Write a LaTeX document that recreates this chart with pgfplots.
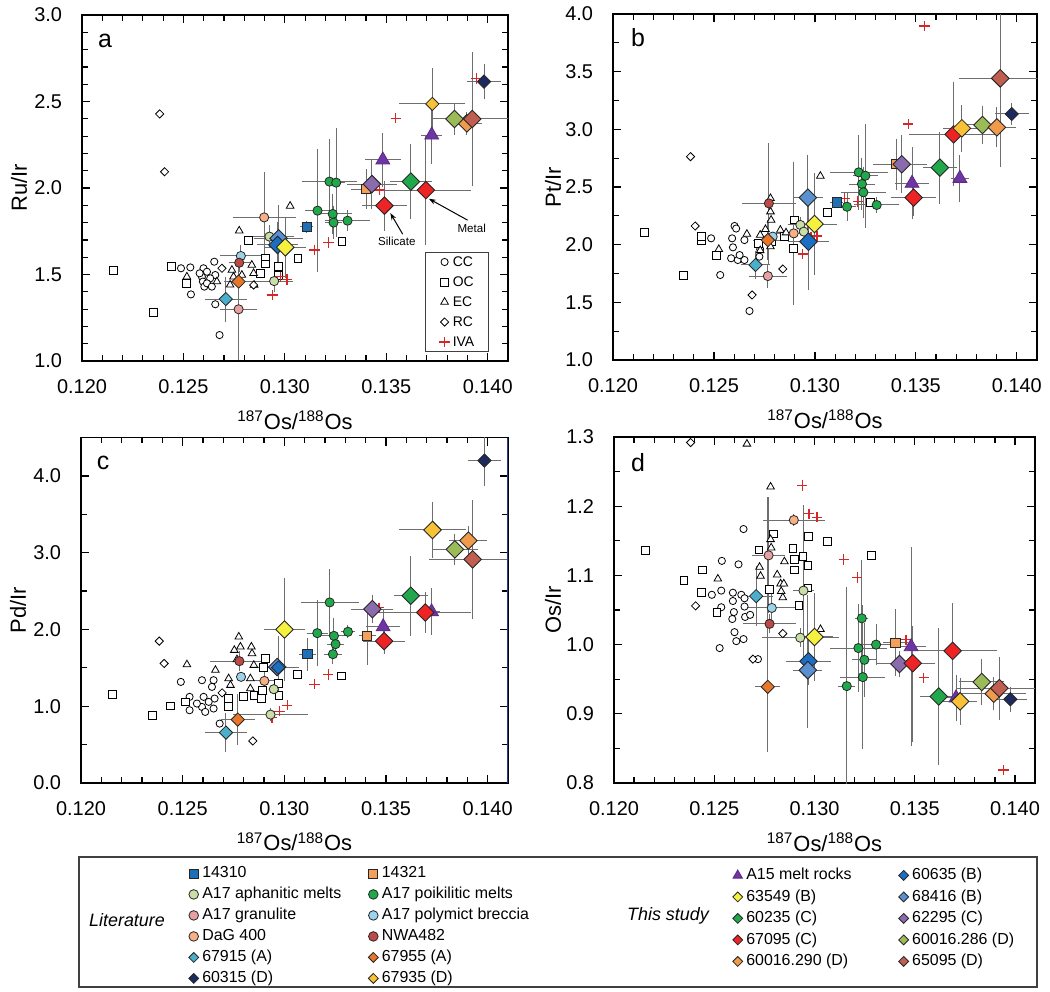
\documentclass[border=0pt]{standalone}
\usepackage{fontspec}
\setmainfont{Liberation Sans}
\usepackage{pgfplots}
\pgfplotsset{compat=1.18}
\usetikzlibrary{arrows.meta}

\definecolor{c14310}{HTML}{1F6FB6}
\definecolor{c14321}{HTML}{F5A05A}
\definecolor{caph}{HTML}{C9DFA7}
\definecolor{cpoik}{HTML}{20A94B}
\definecolor{cgran}{HTML}{E8A1A1}
\definecolor{cpoly}{HTML}{9DD3EA}
\definecolor{cdag}{HTML}{F7AF85}
\definecolor{cnwa}{HTML}{BE4A47}
\definecolor{c67915}{HTML}{4AAFCB}
\definecolor{c67955}{HTML}{E8762B}
\definecolor{c60315}{HTML}{1C2A5E}
\definecolor{c67935}{HTML}{F8C136}
\definecolor{cAxv}{HTML}{6F35A5}
\definecolor{c60635}{HTML}{1B6FC2}
\definecolor{c63549}{HTML}{F6F13F}
\definecolor{c60235}{HTML}{22A84C}
\definecolor{c62295}{HTML}{8A6CAE}
\definecolor{c67095}{HTML}{EE2424}
\definecolor{c60286}{HTML}{9BBB59}
\definecolor{c68416}{HTML}{5A8FD0}
\definecolor{c60290}{HTML}{F09A4C}
\definecolor{c65095}{HTML}{C05E52}
\definecolor{civa}{HTML}{D62728}
\definecolor{cerr}{HTML}{6E6E6E}
\definecolor{cnavy}{HTML}{2D3A8C}

\tikzset{letter/.style={font=\fontsize{12.5}{15}\selectfont}}

\pgfplotsset{
  mkleg/.style={legend image code/.code={\draw[##1] plot[only marks] coordinates {(0pt,0pt)};}},
  mCC/.style={only marks, mark=*, mark size=1.8bp, mark options={fill=white, draw=black, line width=0.4bp}, mkleg},
  mOC/.style={only marks, mark=square*, mark size=1.95bp, mark options={fill=white, draw=black, line width=0.4bp}, mkleg},
  mEC/.style={only marks, mark=triangle*, mark size=2.2bp, mark options={fill=white, draw=black, line width=0.4bp}, mkleg},
  mRC/.style={only marks, mark=square*, mark size=1.45bp, mark options={rotate=45, fill=white, draw=black, line width=0.4bp}, mkleg},
  mIVA/.style={only marks, mark=+, mark size=2.6bp, mark options={draw=civa, line width=0.65bp}, mkleg},
  mcirc/.style={only marks, mark=*, mark size=2.3bp, mark options={fill=#1, draw=black!85, line width=0.4bp}, mkleg},
  msq/.style={only marks, mark=square*, mark size=2.3bp, mark options={fill=#1, draw=black!85, line width=0.4bp}, mkleg},
  mdia/.style={only marks, mark=square*, mark size=2.35bp, mark options={rotate=45, fill=#1, draw=black!85, line width=0.4bp}, mkleg},
  mbdia/.style={only marks, mark=square*, mark size=3.1bp, mark options={rotate=45, fill=#1, draw=black!85, line width=0.45bp}, mkleg},
  mbtri/.style={only marks, mark=triangle*, mark size=4bp, mark options={fill=cAxv, draw=cAxv!80!black, line width=0.4bp}, mkleg},
  errs/.style={forget plot, only marks, mark=*, mark size=0.2bp, color=cerr,
    error bars/.cd, x dir=both, y dir=both, x explicit, y explicit,
    error bar style={cerr, line width=0.5bp},
    error mark options={cerr, line width=0.5bp, mark size=1.3bp}},
  panel/.style={
    scale only axis, xmin=0.120, xmax=0.141,
    xtick={0.120,0.125,0.130,0.135,0.140}, minor x tick num=4,
    scaled x ticks=false, scaled y ticks=false,
    /pgf/number format/assume math mode=true,
    xticklabel={\pgfmathprintnumber[fixed,fixed zerofill,precision=3]{\tick}},
    yticklabel={\pgfmathprintnumber[fixed,fixed zerofill,precision=1]{\tick}},
    tick label style={font=\fontsize{10}{12}\selectfont},
    xticklabel style={yshift=-6bp},
    yticklabel style={xshift=-6.5bp},
    tick align=inside, tick pos=both,
    major tick length=4bp, minor tick length=2.8bp,
    every tick/.style={black, line width=0.6bp},
    axis line style={line width=0.8bp},
    xlabel={\textsuperscript{187}Os/\textsuperscript{188}Os},
    label style={font=\fontsize{11}{13}\selectfont},
    xlabel style={at={(axis description cs:0.5,-0.17)}, anchor=center},
  },
  botleg/.style={hide axis, scale only axis, width=525bp, height=496bp,
    at={(0bp,-496bp)}, anchor=south west, xmin=0, xmax=1, ymin=0, ymax=1,
    legend columns=2, legend cell align=left},
}

\begin{document}
\begin{tikzpicture}
\useasboundingbox (0bp,0bp) rectangle (525bp,-496bp);

% ---------------- panel a ----------------
\begin{axis}[panel, at={(41bp,-180.5bp)}, anchor=south west, width=213bp, height=173bp,
  ymin=1, ymax=3, ytick={1,1.5,2,2.5,3}, minor y tick num=4,
  ylabel={Ru/Ir}, ylabel style={at={(axis description cs:-0.148,0.5)}, anchor=center},
  legend cell align=left,
  legend style={at={(0.955,0.026)}, anchor=south east, draw=black!75, line width=0.6bp,
    inner xsep=7bp, inner ysep=1.3bp, row sep=3.2bp,
    nodes={inner sep=0pt, text height=5.5bp, text depth=1.3bp, font=\fontsize{7}{8}\selectfont},
    /tikz/every odd column/.append style={column sep=1.5bp}}]
\addplot[errs] table[x=x, y=y, x error plus=xp, x error minus=xm, y error plus=yp, y error minus=ym] {
x y xm xp ym yp
0.13108 1.776 0.0002 0.0002 0.02 0.02
0.12898 1.830 0.00143 0.00143 0.25 0.25
0.12924 1.719 0.0011 0.0011 0.05 0.05
0.12947 1.462 0.0008 0.0008 0.05 0.05
0.12709 1.358 0.0009 0.0009 0.115 0.115
0.12772 1.299 0.0008 0.0008 0.28 0.28
0.12772 1.459 0.0006 0.0006 0.15 0.15
0.12783 1.607 0.0009 0.0009 0.05 0.05
0.12775 1.568 0.0004 0.0004 0.04 0.04
0.13220 2.037 0.00123 0.00123 0.23 0.23
0.13253 2.031 0.0003 0.0003 0.30 0.30
0.13161 1.869 0.0005 0.0005 0.34 0.34
0.13236 1.850 0.0008 0.0008 0.10 0.10
0.13240 1.800 0.0003 0.0003 0.08 0.08
0.13309 1.811 0.0010 0.0010 0.045 0.045
0.12969 1.709 0.0011 0.0011 0.18 0.18
0.12964 1.671 0.0009 0.0009 0.12 0.12
0.13002 1.657 0.0009 0.0009 0.16 0.16
0.13429 2.023 0.0011 0.0011 0.13 0.13
0.13401 1.994 0.0006 0.0006 0.10 0.10
0.13483 2.162 0.00075 0.00075 0.14 0.14
0.13724 2.306 0.0004 0.0004 0.15 0.15
0.13491 1.898 0.0010 0.0010 0.13 0.13
0.13695 1.988 0.0021 0.0021 0.30 0.30
0.13621 2.037 0.0009 0.0009 0.20 0.20
0.13836 2.399 0.0010 0.0010 0.08 0.08
0.13924 2.399 0.0018 0.0018 0.37 0.37
0.13897 2.374 0.0006 0.0006 0.05 0.05
0.13727 2.486 0.0015 0.0015 0.19 0.19
0.13982 2.615 0.0007 0.0007 0.085 0.085
};
\addplot[mCC] coordinates {(0.12488,1.536) (0.12534,1.541) (0.12537,1.385) (0.12599,1.536) (0.12616,1.516) (0.12652,1.574) (0.12657,1.497) (0.12591,1.487) (0.12596,1.459) (0.12603,1.430) (0.12632,1.478) (0.12657,1.328) (0.12678,1.150) (0.12580,1.507) (0.12616,1.449) (0.12640,1.430)};
\addlegendentry{CC}
\addplot[mOC] coordinates {(0.12156,1.526) (0.12350,1.279) (0.12440,1.545) (0.12514,1.449) (0.12821,1.696) (0.12903,1.593) (0.12906,1.561) (0.12969,1.549) (0.12969,1.497) (0.13064,1.593) (0.13281,1.690) (0.12878,1.507)};
\addlegendentry{OC}
\addplot[mEC] coordinates {(0.12517,1.487) (0.12665,1.459) (0.12775,1.753) (0.12739,1.526) (0.12747,1.487) (0.12788,1.497) (0.12837,1.555) (0.12846,1.507) (0.12849,1.439) (0.13026,1.896) (0.12730,1.440)};
\addlegendentry{EC}
\addplot[mRC] coordinates {(0.12383,2.428) (0.12407,2.094) (0.12690,1.536) (0.12846,1.439)};
\addlegendentry{RC}
\addplot[mIVA] coordinates {(0.13943,2.634) (0.13547,2.403) (0.13466,1.988) (0.13215,1.686) (0.13146,1.642) (0.12977,1.487) (0.13010,1.472) (0.12939,1.381)};
\addlegendentry{IVA}
\addplot[msq=c14310, forget plot] coordinates {(0.13108,1.776)};
\addplot[msq=c14321, forget plot] coordinates {(0.13401,1.994)};
\addplot[mcirc=caph, forget plot] coordinates {(0.12924,1.719) (0.12947,1.462)};
\addplot[mcirc=cpoik, forget plot] coordinates {(0.13220,2.037) (0.13253,2.031) (0.13161,1.869) (0.13236,1.850) (0.13240,1.800) (0.13309,1.811)};
\addplot[mcirc=cgran, forget plot] coordinates {(0.12772,1.299)};
\addplot[mcirc=cpoly, forget plot] coordinates {(0.12783,1.607)};
\addplot[mcirc=cdag, forget plot] coordinates {(0.12898,1.830)};
\addplot[mcirc=cnwa, forget plot] coordinates {(0.12775,1.568)};
\addplot[mdia=c67915, forget plot] coordinates {(0.12709,1.358)};
\addplot[mdia=c67955, forget plot] coordinates {(0.12772,1.459)};
\addplot[mdia=c60315, forget plot] coordinates {(0.13982,2.615)};
\addplot[mdia=c67935, forget plot] coordinates {(0.13727,2.486)};
\addplot[mbtri, forget plot] coordinates {(0.13483,2.162) (0.13724,2.306)};
\addplot[mbdia=c68416, forget plot] coordinates {(0.12969,1.709)};
\addplot[mbdia=c60635, forget plot] coordinates {(0.12964,1.671)};
\addplot[mbdia=c63549, forget plot] coordinates {(0.13002,1.657)};
\addplot[mbdia=c60235, forget plot] coordinates {(0.13621,2.037)};
\addplot[mbdia=c62295, forget plot] coordinates {(0.13429,2.023)};
\addplot[mbdia=c67095, forget plot] coordinates {(0.13491,1.898) (0.13695,1.988)};
\addplot[mbdia=c60290, forget plot] coordinates {(0.13897,2.374)};
\addplot[mbdia=c60286, forget plot] coordinates {(0.13836,2.399)};
\addplot[mbdia=c65095, forget plot] coordinates {(0.13924,2.399)};
\node[letter] at (rel axis cs:0.054,0.925) {a};
\draw[-{Stealth[length=3.5bp,width=2.5bp]}, line width=0.5bp] (axis cs:0.13581,1.733) -- (axis cs:0.13520,1.855);
\draw[-{Stealth[length=3.5bp,width=2.5bp]}, line width=0.5bp] (axis cs:0.13901,1.814) -- (axis cs:0.13710,1.938);
\node[font=\fontsize{5.8}{7}\selectfont] at (axis cs:0.13552,1.692) {Silicate};
\node[font=\fontsize{5.8}{7}\selectfont] at (axis cs:0.13921,1.767) {Metal};
\end{axis}

% ---------------- panel b ----------------
\begin{axis}[panel, at={(306.5bp,-180bp)}, anchor=south west, width=212bp, height=173bp,
  ymin=1, ymax=4, ytick={1,1.5,2,2.5,3,3.5,4}, minor y tick num=1,
  ylabel={Pt/Ir}, ylabel style={at={(axis description cs:-0.1415,0.5)}, anchor=center}]
\addplot[errs] table[x=x, y=y, x error plus=xp, x error minus=xm, y error plus=yp, y error minus=ym] {
x y xm xp ym yp
0.12772 2.358 0.0012 0.0012 0.50 0.50
0.12965 2.408 0.0006 0.0006 0.35 0.35
0.12968 2.026 0.0009 0.0009 0.40 0.40
0.12895 2.098 0.0008 0.0008 0.60 0.60
0.12998 2.179 0.0010 0.0010 0.42 0.42
0.12706 1.824 0.0006 0.0006 0.10 0.10
0.12767 2.040 0.0006 0.0006 0.15 0.15
0.12767 1.728 0.0008 0.0008 0.08 0.08
0.12928 2.171 0.0005 0.0005 0.05 0.05
0.13217 2.627 0.0013 0.0013 0.30 0.30
0.13250 2.598 0.0005 0.0005 0.43 0.43
0.13233 2.526 0.0005 0.0005 0.20 0.20
0.13240 2.454 0.0010 0.0010 0.20 0.20
0.13159 2.329 0.0003 0.0003 0.10 0.10
0.13306 2.344 0.0010 0.0010 0.05 0.05
0.13108 2.367 0.0002 0.0002 0.02 0.02
0.13402 2.697 0.0010 0.0010 0.20 0.20
0.13430 2.697 0.0011 0.0011 0.23 0.23
0.13481 2.532 0.0007 0.0007 0.29 0.29
0.13718 2.575 0.0003 0.0003 0.18 0.18
0.13489 2.408 0.0010 0.0010 0.14 0.14
0.13687 2.957 0.0021 0.0021 0.43 0.43
0.13619 2.668 0.0007 0.0007 0.29 0.29
0.13728 3.009 0.0008 0.0008 0.18 0.18
0.13830 3.038 0.0008 0.0008 0.14 0.14
0.13901 3.017 0.0008 0.0008 0.15 0.15
0.13918 3.442 0.0019 0.0019 0.75 0.75
0.13975 3.133 0.0007 0.0007 0.07 0.07
};
\addplot[mCC, forget plot] coordinates {(0.12486,2.055) (0.12531,1.737) (0.12590,2.055) (0.12602,2.162) (0.12594,1.977) (0.12618,1.867) (0.12651,1.867) (0.12651,2.040) (0.12676,1.425) (0.12725,1.896) (0.12729,1.960) (0.12627,1.910) (0.12585,1.882) (0.12610,2.140)};
\addplot[mOC, forget plot] coordinates {(0.12157,2.107) (0.12350,1.731) (0.12437,2.040) (0.12511,1.910) (0.12894,1.968) (0.13063,2.277) (0.13275,2.364) (0.12721,2.012) (0.12783,2.026) (0.12849,2.069) (0.12899,2.214) (0.12437,2.070)};
\addplot[mEC, forget plot] coordinates {(0.12524,1.960) (0.12663,2.092) (0.12729,2.084) (0.12755,2.133) (0.12780,2.286) (0.12783,2.214) (0.12780,1.983) (0.12829,2.127) (0.12857,2.104) (0.13027,2.595) (0.12780,2.402) (0.12729,1.950)};
\addplot[mRC, forget plot] coordinates {(0.12384,2.763) (0.12407,2.162) (0.12689,1.564) (0.12841,1.789)};
\addplot[mIVA, forget plot] coordinates {(0.13542,3.896) (0.13462,3.046) (0.13146,2.402) (0.13212,2.373) (0.12940,1.919) (0.12981,2.069) (0.13011,2.075)};
\addplot[msq=c14310, forget plot] coordinates {(0.13108,2.367)};
\addplot[msq=c14321, forget plot] coordinates {(0.13402,2.697)};
\addplot[mcirc=caph, forget plot] coordinates {(0.12928,2.171) (0.12945,2.113)};
\addplot[mcirc=cpoik, forget plot] coordinates {(0.13217,2.627) (0.13250,2.598) (0.13233,2.526) (0.13240,2.454) (0.13159,2.329) (0.13306,2.344)};
\addplot[mcirc=cgran, forget plot] coordinates {(0.12767,1.728)};
\addplot[mcirc=cpoly, forget plot] coordinates {(0.12791,2.070)};
\addplot[mcirc=cdag, forget plot] coordinates {(0.12895,2.098)};
\addplot[mcirc=cnwa, forget plot] coordinates {(0.12772,2.358)};
\addplot[mdia=c67915, forget plot] coordinates {(0.12706,1.824)};
\addplot[mdia=c67955, forget plot] coordinates {(0.12767,2.040)};
\addplot[mdia=c60315, forget plot] coordinates {(0.13975,3.133)};
\addplot[mbtri, forget plot] coordinates {(0.13481,2.532) (0.13718,2.575)};
\addplot[mbdia=c60635, forget plot] coordinates {(0.12968,2.026)};
\addplot[mbdia=c68416, forget plot] coordinates {(0.12965,2.408)};
\addplot[mbdia=c63549, forget plot] coordinates {(0.12998,2.179)};
\addplot[mbdia=c60235, forget plot] coordinates {(0.13619,2.668)};
\addplot[mbdia=c62295, forget plot] coordinates {(0.13430,2.697)};
\addplot[mbdia=c67095, forget plot] coordinates {(0.13489,2.408) (0.13687,2.957)};
\addplot[mdia=c67935, mark size=3.1bp, forget plot] coordinates {(0.13728,3.009)};
\addplot[mbdia=c60286, forget plot] coordinates {(0.13830,3.038)};
\addplot[mbdia=c60290, forget plot] coordinates {(0.13901,3.017)};
\addplot[mbdia=c65095, forget plot] coordinates {(0.13918,3.442)};
\node[letter] at (rel axis cs:0.059,0.931) {b};
\end{axis}

% ---------------- panel c ----------------
\begin{axis}[panel, at={(40.5bp,-391.5bp)}, anchor=south west, width=213.5bp, height=172.75bp,
  ymin=0, ymax=4.5, ytick={0,1,2,3,4}, minor y tick num=1,
  ylabel={Pd/Ir}, ylabel style={at={(axis description cs:-0.1475,0.5)}, anchor=center}]
\addplot[errs] table[x=x, y=y, x error plus=xp, x error minus=xm, y error plus=yp, y error minus=ym] {
x y xm xp ym yp
0.13984 4.200 0.0007 0.0007 0.30 0.30
0.13729 3.296 0.0015 0.0015 0.33 0.33
0.13905 3.157 0.0008 0.0008 0.16 0.16
0.13839 3.043 0.0010 0.0010 0.17 0.17
0.13926 2.913 0.0020 0.0020 0.74 0.74
0.13622 2.439 0.0007 0.0007 0.49 0.49
0.13693 2.222 0.0021 0.0021 0.23 0.23
0.13491 1.848 0.0009 0.0009 0.13 0.13
0.13724 2.230 0.0003 0.0003 0.27 0.27
0.13486 2.035 0.0007 0.0007 0.20 0.20
0.13433 2.265 0.0009 0.0009 0.15 0.15
0.13408 1.917 0.0003 0.0003 0.34 0.34
0.13223 2.352 0.0013 0.0013 0.40 0.40
0.13162 1.952 0.0004 0.0004 0.40 0.40
0.13244 1.917 0.0005 0.0005 0.20 0.20
0.13252 1.809 0.0003 0.0003 0.10 0.10
0.13239 1.678 0.0003 0.0003 0.10 0.10
0.13313 1.970 0.0002 0.0002 0.05 0.05
0.13113 1.678 0.0003 0.0003 0.18 0.18
0.13001 2.000 0.0009 0.0009 0.64 0.64
0.12970 1.504 0.0009 0.0009 0.38 0.38
0.12779 1.587 0.0013 0.0013 0.10 0.10
0.12902 1.330 0.0008 0.0008 0.10 0.10
0.12932 0.891 0.0017 0.0017 0.05 0.05
0.12771 0.826 0.0007 0.0007 0.30 0.30
0.12713 0.657 0.0009 0.0009 0.22 0.22
};
\addplot[mCC, forget plot] coordinates {(0.12491,1.317) (0.12534,1.122) (0.12595,1.339) (0.12652,1.339) (0.12603,1.122) (0.12644,1.252) (0.12657,1.100) (0.12595,0.991) (0.12534,0.948) (0.12570,1.035) (0.12611,0.926) (0.12682,0.774) (0.12652,0.970) (0.12628,1.057)};
\addplot[mOC, forget plot] coordinates {(0.12156,1.152) (0.12352,0.883) (0.12439,1.004) (0.12513,1.057) (0.12726,1.100) (0.12726,1.000) (0.12800,1.130) (0.12850,1.143) (0.12887,1.100) (0.12891,1.209) (0.12899,1.504) (0.12907,1.622) (0.12973,1.143) (0.12970,1.296) (0.13063,1.413) (0.13282,1.396)};
\addplot[mEC, forget plot] coordinates {(0.12521,1.543) (0.12661,1.470) (0.12726,1.361) (0.12735,1.274) (0.12754,1.730) (0.12776,1.904) (0.12784,1.774) (0.12838,1.774) (0.12841,1.687) (0.12767,1.609) (0.12833,1.361) (0.12833,1.230) (0.12850,1.535)};
\addplot[mRC, forget plot] coordinates {(0.12385,1.848) (0.12409,1.557) (0.12694,1.174) (0.12845,0.548)};
\addplot[mIVA, forget plot] coordinates {(0.13466,2.283) (0.13149,1.287) (0.13216,1.413) (0.12940,0.852) (0.12976,0.935) (0.13014,1.013)};
\addplot[msq=c14310, forget plot] coordinates {(0.13113,1.678)};
\addplot[msq=c14321, forget plot] coordinates {(0.13408,1.917)};
\addplot[mcirc=caph, forget plot] coordinates {(0.12948,1.222) (0.12932,0.891)};
\addplot[mcirc=cpoik, forget plot] coordinates {(0.13223,2.352) (0.13162,1.952) (0.13244,1.917) (0.13252,1.809) (0.13239,1.678) (0.13313,1.970)};
\addplot[mcirc=cpoly, forget plot] coordinates {(0.12787,1.383)};
\addplot[mcirc=cdag, forget plot] coordinates {(0.12902,1.330)};
\addplot[mcirc=cnwa, forget plot] coordinates {(0.12779,1.587)};
\addplot[mdia=c67915, forget plot] coordinates {(0.12713,0.657)};
\addplot[mdia=c67955, forget plot] coordinates {(0.12771,0.826)};
\addplot[mdia=c60315, forget plot] coordinates {(0.13984,4.200)};
\addplot[mbtri, forget plot] coordinates {(0.13486,2.035) (0.13724,2.230)};
\addplot[mbdia=c68416, forget plot] coordinates {(0.12965,1.510)};
\addplot[mdia=c60635, forget plot] coordinates {(0.12970,1.504)};
\addplot[mbdia=c63549, forget plot] coordinates {(0.13001,2.000)};
\addplot[mbdia=c60235, forget plot] coordinates {(0.13622,2.439)};
\addplot[mbdia=c62295, forget plot] coordinates {(0.13433,2.265)};
\addplot[mbdia=c67095, forget plot] coordinates {(0.13491,1.848) (0.13693,2.222)};
\addplot[mbdia=c67935, forget plot] coordinates {(0.13729,3.296)};
\addplot[mbdia=c60286, forget plot] coordinates {(0.13839,3.043)};
\addplot[mbdia=c60290, forget plot] coordinates {(0.13905,3.157)};
\addplot[mbdia=c65095, forget plot] coordinates {(0.13926,2.913)};
\node[letter] at (rel axis cs:0.052,0.927) {c};
\draw[cnavy, line width=0.8bp] (rel axis cs:1,0) -- (rel axis cs:1,1);
\end{axis}

% ---------------- panel d ----------------
\begin{axis}[panel, at={(307bp,-391.5bp)}, anchor=south west, width=210.5bp, height=173bp,
  ymin=0.8, ymax=1.3, ytick={0.8,0.9,1.0,1.1,1.2,1.3}, minor y tick num=1,
  ylabel={Os/Ir}, ylabel style={at={(axis description cs:-0.145,0.5)}, anchor=center}]
\addplot[errs] table[x=x, y=y, x error plus=xp, x error minus=xm, y error plus=yp, y error minus=ym] {
x y xm xp ym yp
0.12897 1.180 0.0014 0.0014 0.005 0.005
0.12771 1.129 0.0007 0.0007 0.08 0.08
0.12709 1.070 0.0007 0.0007 0.04 0.04
0.12787 1.053 0.0011 0.0011 0.02 0.02
0.12776 1.030 0.0012 0.0012 0.01 0.01
0.12767 0.939 0.0005 0.0005 0.09 0.27
0.12945 1.078 0.0004 0.0004 0.12 0.12
0.12929 1.010 0.0018 0.0018 0.01 0.01
0.12967 0.963 0.0006 0.0006 0.08 0.105
0.12970 0.976 0.0010 0.0010 0.03 0.03
0.13000 1.011 0.0009 0.0009 0.06 0.06
0.13161 0.940 0.0003 0.0003 0.20 0.14
0.13236 1.038 0.0002 0.0002 0.08 0.08
0.13219 0.995 0.0013 0.0013 0.06 0.06
0.13307 1.000 0.0008 0.0008 0.026 0.026
0.13249 0.978 0.0005 0.0005 0.05 0.05
0.13241 0.953 0.0010 0.0010 0.10 0.10
0.13404 1.003 0.0005 0.0005 0.045 0.045
0.13482 0.997 0.0006 0.0006 0.14 0.14
0.13706 0.923 0.0003 0.0003 0.03 0.03
0.13490 0.973 0.0010 0.0010 0.11 0.05
0.13689 0.991 0.0021 0.0021 0.065 0.065
0.13424 0.972 0.0010 0.0010 0.015 0.015
0.13620 0.925 0.0008 0.0008 0.095 0.095
0.13834 0.946 0.0010 0.0010 0.03 0.03
0.13894 0.929 0.0015 0.0015 0.02 0.02
0.13922 0.937 0.0020 0.0020 0.042 0.042
0.13726 0.918 0.0007 0.0007 0.03 0.03
0.13977 0.921 0.0007 0.0007 0.014 0.014
};
\addplot[mCC, forget plot] coordinates {(0.12527,0.995) (0.12538,1.121) (0.12621,1.116) (0.12646,1.167) (0.12488,1.072) (0.12535,1.078) (0.12535,1.054) (0.12593,1.075) (0.12593,1.063) (0.12598,1.047) (0.12590,1.037) (0.12635,1.072) (0.12651,1.067) (0.12651,1.055) (0.12654,1.040) (0.12679,1.043) (0.12601,1.018) (0.12610,1.005) (0.12646,1.008) (0.12718,0.979)};
\addplot[mOC, forget plot] coordinates {(0.12156,1.136) (0.12349,1.093) (0.12439,1.108) (0.12435,1.075) (0.12513,1.046) (0.12723,1.137) (0.12797,1.160) (0.12892,1.139) (0.12900,1.123) (0.12900,1.108) (0.12942,1.128) (0.12970,1.156) (0.12967,1.114) (0.13063,1.149) (0.13282,1.129) (0.12776,1.080) (0.12922,1.057) (0.12967,1.082)};
\addplot[mEC, forget plot] coordinates {(0.12663,1.290) (0.12781,1.228) (0.12518,1.095) (0.12726,1.112) (0.12781,1.152) (0.12784,1.140) (0.12731,1.099) (0.12814,1.101) (0.12850,1.120) (0.12831,1.088) (0.12847,1.088) (0.12834,1.077) (0.12842,1.068) (0.13030,1.022)};
\addplot[mRC, forget plot] coordinates {(0.12382,1.292) (0.12407,1.056) (0.12693,0.979) (0.12842,1.016)};
\addplot[mIVA, forget plot] coordinates {(0.12939,1.230) (0.12972,1.189) (0.13013,1.184) (0.13146,1.123) (0.13213,1.097) (0.13457,1.007) (0.13545,0.952) (0.13942,0.819)};
\addplot[msq=c14321, forget plot] coordinates {(0.13404,1.003)};
\addplot[mcirc=caph, forget plot] coordinates {(0.12945,1.078) (0.12929,1.010)};
\addplot[mcirc=cpoik, forget plot] coordinates {(0.13236,1.038) (0.13219,0.995) (0.13307,1.000) (0.13249,0.978) (0.13241,0.953) (0.13161,0.940)};
\addplot[mcirc=cgran, forget plot] coordinates {(0.12771,1.129)};
\addplot[mcirc=cpoly, forget plot] coordinates {(0.12787,1.053)};
\addplot[mcirc=cdag, forget plot] coordinates {(0.12897,1.180)};
\addplot[mcirc=cnwa, forget plot] coordinates {(0.12776,1.030)};
\addplot[mdia=c67915, forget plot] coordinates {(0.12709,1.070)};
\addplot[mdia=c67955, forget plot] coordinates {(0.12767,0.939)};
\addplot[mdia=c60315, forget plot] coordinates {(0.13977,0.921)};
\addplot[mbtri, forget plot] coordinates {(0.13482,0.997) (0.13706,0.923)};
\addplot[mbdia=c67935, forget plot] coordinates {(0.13726,0.918)};
\addplot[mbdia=c60635, forget plot] coordinates {(0.12970,0.976)};
\addplot[mbdia=c68416, forget plot] coordinates {(0.12967,0.963)};
\addplot[mbdia=c63549, forget plot] coordinates {(0.13000,1.011)};
\addplot[mbdia=c60235, forget plot] coordinates {(0.13620,0.925)};
\addplot[mbdia=c62295, forget plot] coordinates {(0.13424,0.972)};
\addplot[mbdia=c67095, forget plot] coordinates {(0.13490,0.973) (0.13689,0.991)};
\addplot[mbdia=c60286, forget plot] coordinates {(0.13834,0.946)};
\addplot[mbdia=c60290, forget plot] coordinates {(0.13894,0.929)};
\addplot[mbdia=c65095, forget plot] coordinates {(0.13922,0.937)};
\node[letter] at (rel axis cs:0.057,0.925) {d};
\end{axis}

% ---------------- bottom legend ----------------
\draw[black!75, line width=0.6bp] (39.5bp,-428.5bp) rectangle (518.5bp,-493.5bp);
\node[font=\itshape\fontsize{9}{11}\selectfont] at (63.5bp,-460bp) {Literature};
\node[font=\itshape\fontsize{9}{11}\selectfont] at (334bp,-458bp) {This study};

\begin{axis}[botleg,
  legend style={at={(0.1794,0.1275)}, anchor=north west, draw=none, fill=none,
    inner sep=0pt, row sep=3bp,
    nodes={inner sep=0pt, text height=6bp, text depth=1.5bp, font=\fontsize{8}{9.6}\selectfont},
    /tikz/every odd column/.append style={column sep=1.8bp},
    /tikz/every even column/.append style={column sep=13.5bp}}]
\addlegendimage{msq=c14310, mark size=2.25bp}\addlegendentry{14310}
\addlegendimage{msq=c14321, mark size=2.25bp}\addlegendentry{14321}
\addlegendimage{mcirc=caph, mark size=2.4bp}\addlegendentry{A17 aphanitic melts}
\addlegendimage{mcirc=cpoik, mark size=2.4bp}\addlegendentry{A17 poikilitic melts}
\addlegendimage{mcirc=cgran, mark size=2.4bp}\addlegendentry{A17 granulite}
\addlegendimage{mcirc=cpoly, mark size=2.4bp}\addlegendentry{A17 polymict breccia}
\addlegendimage{mcirc=cdag, mark size=2.4bp}\addlegendentry{DaG 400}
\addlegendimage{mcirc=cnwa, mark size=2.4bp}\addlegendentry{NWA482}
\addlegendimage{mdia=c67915, mark size=1.75bp}\addlegendentry{67915 (A)}
\addlegendimage{mdia=c67955, mark size=1.75bp}\addlegendentry{67955 (A)}
\addlegendimage{mdia=c60315, mark size=1.75bp}\addlegendentry{60315 (D)}
\addlegendimage{mdia=c67935, mark size=1.75bp}\addlegendentry{67935 (D)}
\end{axis}

\begin{axis}[botleg,
  legend style={at={(0.6975,0.1255)}, anchor=north west, draw=none, fill=none,
    inner sep=0pt, row sep=3.25bp,
    nodes={inner sep=0pt, text height=6bp, text depth=1.5bp, font=\fontsize{8}{9.6}\selectfont},
    /tikz/every odd column/.append style={column sep=1.8bp},
    /tikz/every even column/.append style={column sep=23.5bp}}]
\addlegendimage{mbtri, mark size=2.7bp}\addlegendentry{A15 melt rocks}
\addlegendimage{mdia=c60635, mark size=1.75bp}\addlegendentry{60635 (B)}
\addlegendimage{mdia=c63549, mark size=1.75bp}\addlegendentry{63549 (B)}
\addlegendimage{mdia=c68416, mark size=1.75bp}\addlegendentry{68416 (B)}
\addlegendimage{mdia=c60235, mark size=1.75bp}\addlegendentry{60235 (C)}
\addlegendimage{mdia=c62295, mark size=1.75bp}\addlegendentry{62295 (C)}
\addlegendimage{mdia=c67095, mark size=1.75bp}\addlegendentry{67095 (C)}
\addlegendimage{mdia=c60286, mark size=1.75bp}\addlegendentry{60016.286 (D)}
\addlegendimage{mdia=c60290, mark size=1.75bp}\addlegendentry{60016.290 (D)}
\addlegendimage{mdia=c65095, mark size=1.75bp}\addlegendentry{65095 (D)}
\end{axis}
\end{tikzpicture}
\end{document}
